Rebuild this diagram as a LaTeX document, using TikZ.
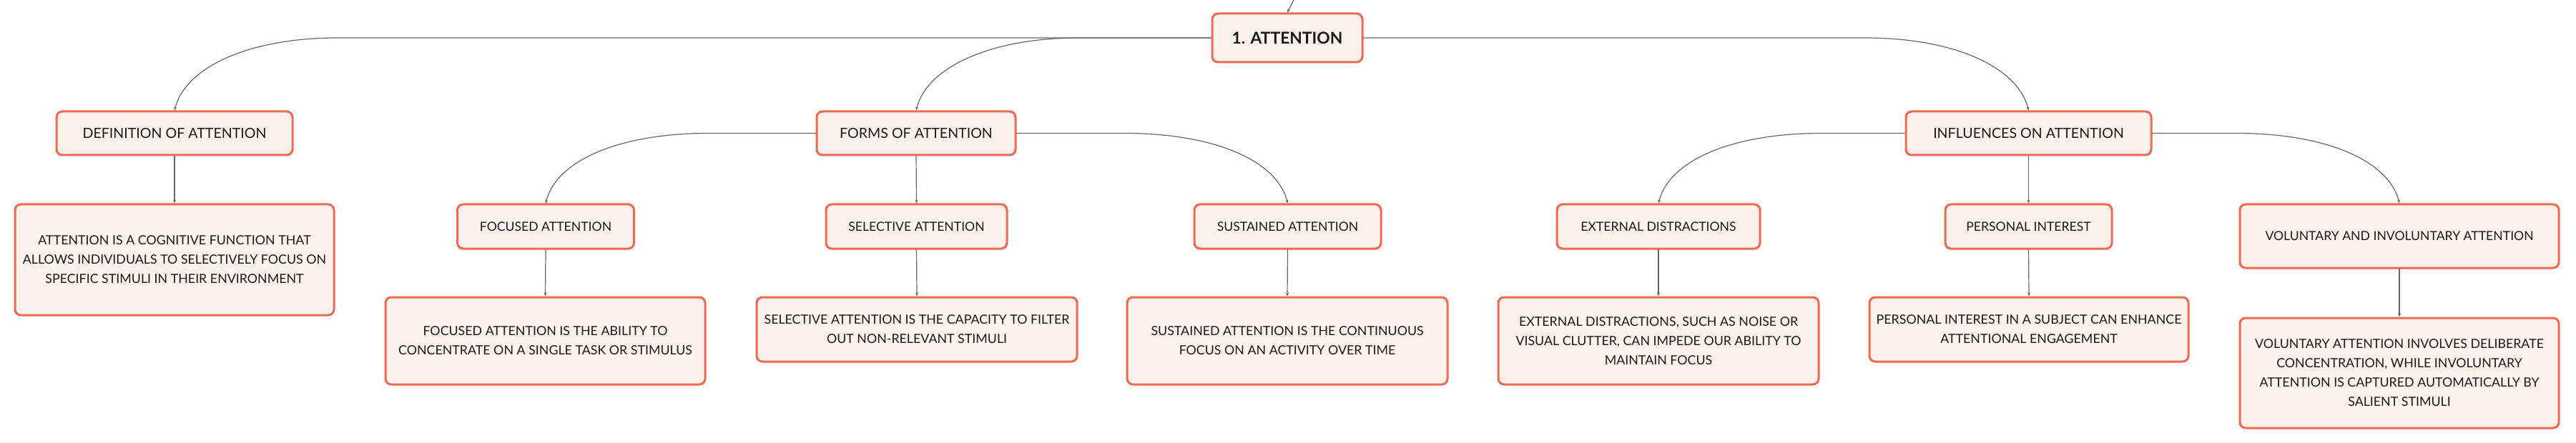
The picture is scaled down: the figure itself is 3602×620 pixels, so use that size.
\documentclass[tikz,border=0pt]{standalone}
\usepackage{fontspec}
\setmainfont{Lato}
\usetikzlibrary{calc,arrows.meta}
\definecolor{boxline}{HTML}{EE6A52}
\definecolor{boxfill}{HTML}{FDF1EC}
\definecolor{linkgray}{HTML}{666666}
\tikzset{
  box/.style={draw=boxline, fill=boxfill, line width=1.5pt, rounded corners=4pt, align=center, inner sep=0pt, text=black!90},
  head/.style={box, font=\fontsize{9.8}{12}\selectfont, minimum height=30.5pt},
  sub/.style={box, font=\fontsize{8.8}{11}\selectfont, minimum height=31pt},
  note/.style={box, font=\fontsize{8.9}{13.5}\selectfont},
  link/.style={draw=linkgray, line width=0.6pt, ->},
}
\begin{document}
\begin{tikzpicture}[x=0.5pt, y=-0.5pt, >={Stealth[length=2.5pt,width=2pt]}, line join=round, line cap=round]
\def\bend{228} % horizontal run before a link bends down
\useasboundingbox (0,0) rectangle (3602,620);
\node[box, font=\fontsize{11.4}{13}\selectfont\bfseries, minimum width=105pt, minimum height=34pt] (att) at (1800,53) {1. ATTENTION};
\coordinate (up) at (1809,0);
% second level
\node[head, minimum width=165pt] (def) at (244,186.5) {DEFINITION OF ATTENTION};
\node[head, minimum width=139pt] (forms) at (1281,186.5) {FORMS OF ATTENTION};
\node[head, minimum width=171.5pt] (infl) at (2836.5,186.5) {INFLUENCES ON ATTENTION};
% third level
\node[sub, minimum width=123.5pt] (focus) at (763,317) {FOCUSED ATTENTION};
\node[sub, minimum width=126.5pt] (sel) at (1281.5,317) {SELECTIVE ATTENTION};
\node[sub, minimum width=130.5pt] (sus) at (1800.5,317) {SUSTAINED ATTENTION};
\node[sub, minimum width=142pt] (ext) at (2319,317) {EXTERNAL DISTRACTIONS};
\node[sub, minimum width=116.5pt] (pers) at (2836.5,317) {PERSONAL INTEREST};
\node[sub, minimum width=223pt, minimum height=44.5pt] (vol) at (3355,330.5) {VOLUNTARY AND INVOLUNTARY ATTENTION};
% notes
\node[note, minimum width=223pt, minimum height=77.5pt] (deftext) at (244,363.5) {ATTENTION IS A COGNITIVE FUNCTION THAT\\ALLOWS INDIVIDUALS TO SELECTIVELY FOCUS ON\\SPECIFIC STIMULI IN THEIR ENVIRONMENT};
\node[note, minimum width=223.5pt, minimum height=61pt] (focustext) at (762.5,477) {FOCUSED ATTENTION IS THE ABILITY TO\\CONCENTRATE ON A SINGLE TASK OR STIMULUS};
\node[note, minimum width=224pt, minimum height=45pt] (seltext) at (1282,461) {SELECTIVE ATTENTION IS THE CAPACITY TO FILTER\\OUT NON-RELEVANT STIMULI};
\node[note, minimum width=224pt, minimum height=61pt] (sustext) at (1800,477) {SUSTAINED ATTENTION IS THE CONTINUOUS\\FOCUS ON AN ACTIVITY OVER TIME};
\node[note, minimum width=224pt, minimum height=61pt] (exttext) at (2319,477) {EXTERNAL DISTRACTIONS, SUCH AS NOISE OR\\VISUAL CLUTTER, CAN IMPEDE OUR ABILITY TO\\MAINTAIN FOCUS};
\node[note, minimum width=223pt, minimum height=45pt] (perstext) at (2837,461) {PERSONAL INTEREST IN A SUBJECT CAN ENHANCE\\ATTENTIONAL ENGAGEMENT};
\node[note, minimum width=223pt, minimum height=77pt] (voltext) at (3355,522) {VOLUNTARY ATTENTION INVOLVES DELIBERATE\\CONCENTRATION, WHILE INVOLUNTARY\\ATTENTION IS CAPTURED AUTOMATICALLY BY\\SALIENT STIMULI};
% links
\draw[link] (up) -- (att.north);
\foreach \p/\s/\c/\d in {att/west/def/1, att/west/forms/1, att/east/infl/-1, forms/west/focus/1, forms/east/sus/-1, infl/west/ext/1, infl/east/vol/-1}
  \draw[link] (\p.\s) -- ($(\c.north |- \p.\s)+({\d*\bend},0)$) .. controls +({-125*\d},0) and +({15*\d},-60) .. (\c.north);
\foreach \a/\b in {def/deftext, forms/sel, focus/focustext, sel/seltext, sus/sustext, infl/pers, ext/exttext, pers/perstext, vol/voltext}
  \draw[link] (\a.south) -- (\b.north);
\end{tikzpicture}
\end{document}
